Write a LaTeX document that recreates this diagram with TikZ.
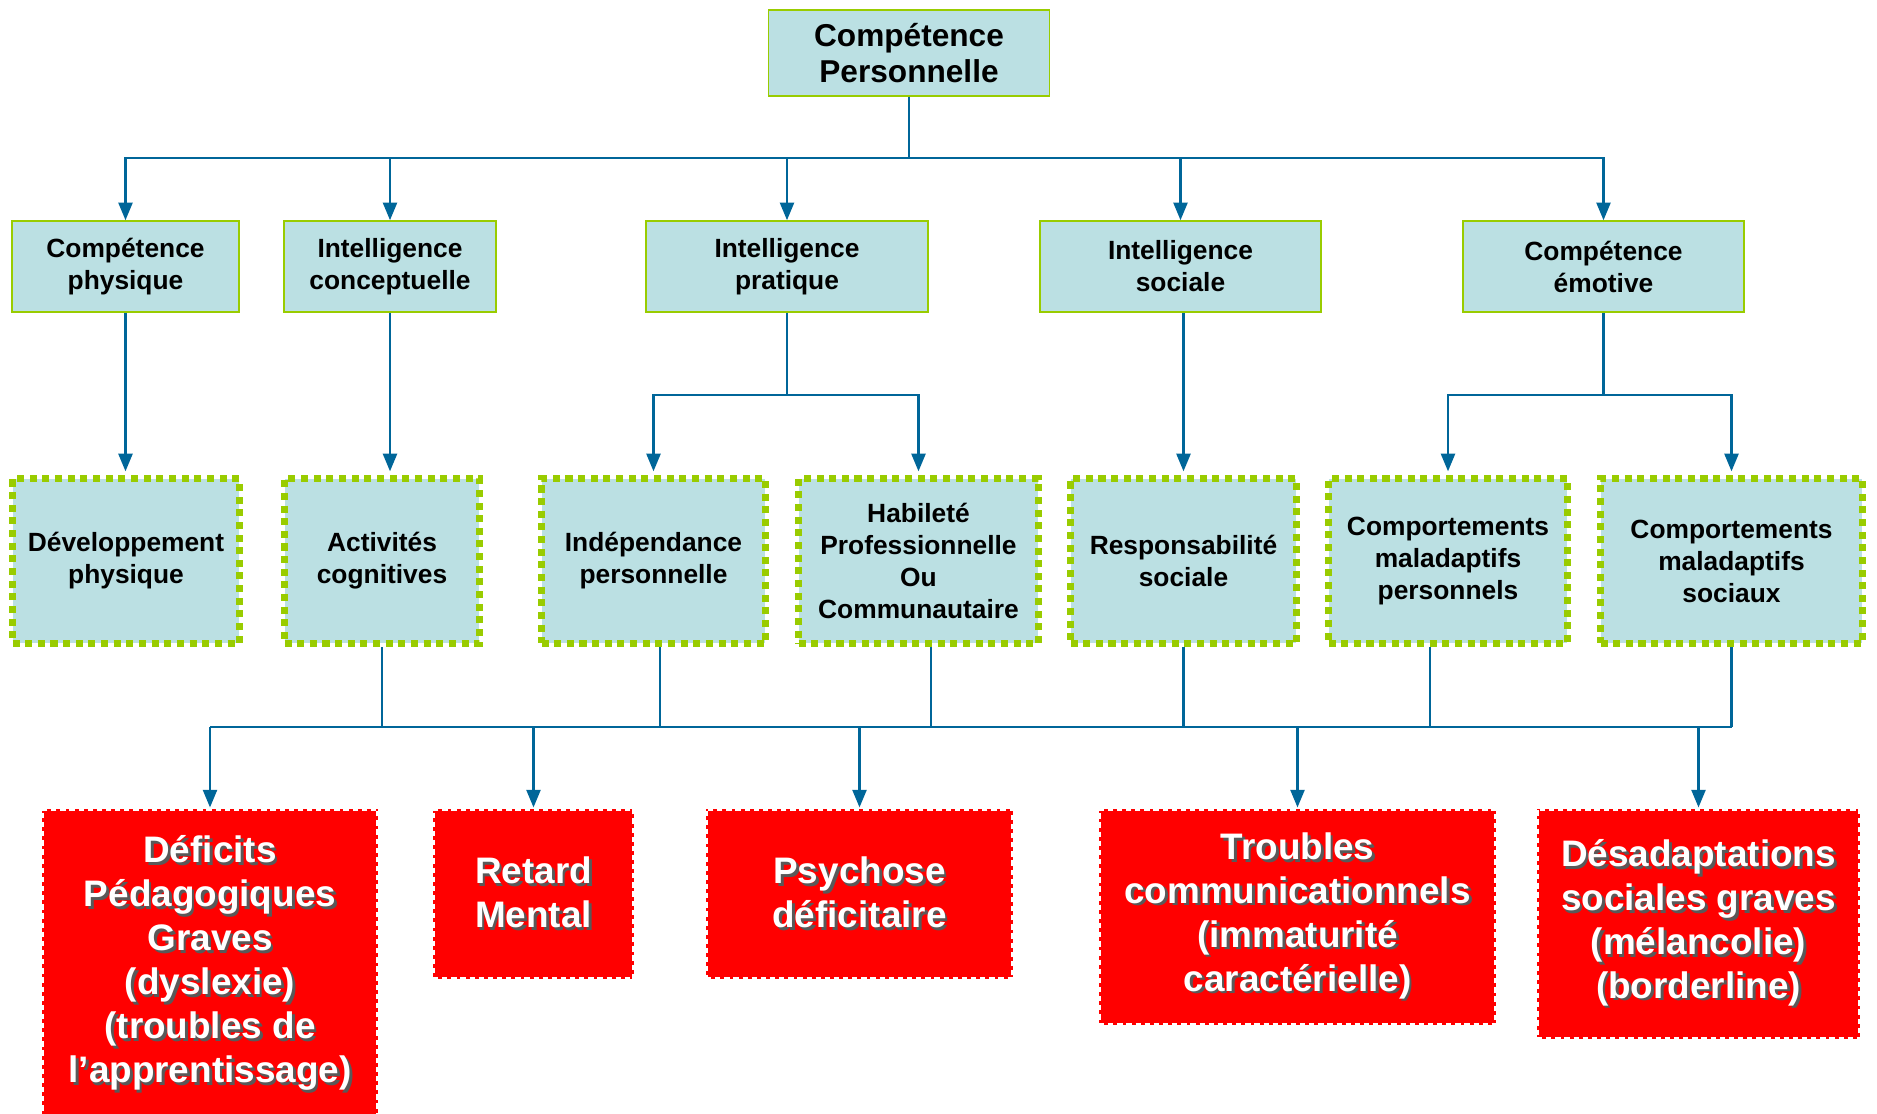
\documentclass[tikz,border=0pt]{standalone}
\usepackage{fontspec}
\setmainfont{Liberation Sans}
\usetikzlibrary{arrows.meta}
\definecolor{boxblue}{HTML}{BBE0E3}
\definecolor{boxgreen}{HTML}{99CC00}
\definecolor{linkblue}{HTML}{006699}
\definecolor{alertred}{HTML}{FF0000}
\newcommand\shtxt[1]{\leavevmode\rlap{\kern1.6pt\raisebox{-1.6pt}{\color{black!65}#1}}#1}
\tikzset{
  >={Triangle[width=8pt,length=10pt]},
  topbox/.style={draw=boxgreen,line width=0.9pt,fill=boxblue,align=center,inner sep=0pt,
    font=\bfseries\fontsize{18}{20.5}\selectfont},
  catbox/.style={draw=boxgreen,line width=0.9pt,fill=boxblue,align=center,inner sep=0pt,
    minimum height=1.82cm,font=\bfseries\fontsize{15}{18.2}\selectfont},
  skillbox/.style={draw=boxgreen,line width=4.2pt,dash pattern=on 4pt off 3.2pt,fill=boxblue,
    align=center,inner sep=0pt,minimum height=3.3cm,font=\bfseries\fontsize{15}{18.2}\selectfont},
  alertbox/.style={draw=white,line width=1.8pt,dash pattern=on 3pt off 2.2pt,fill=alertred,
    text=white,align=center,inner sep=0pt,font=\bfseries\fontsize{21}{25}\selectfont},
  link/.style={draw=linkblue,line width=1.2pt}
}
\begin{document}
\begin{tikzpicture}[x=0.02cm,y=-0.02cm]
  \useasboundingbox (0,0) rectangle (1877,1114);
  \node[topbox,minimum width=5.62cm,minimum height=1.72cm] (root) at (909,53) {Compétence\\Personnelle};

  \node[catbox,minimum width=4.54cm] (cphys) at (125.5,266.5) {Compétence\\physique};
  \node[catbox,minimum width=4.24cm] (iconc) at (390,266.5) {Intelligence\\conceptuelle};
  \node[catbox,minimum width=5.64cm] (iprat) at (787,266.5) {Intelligence\\pratique};
  \node[catbox,minimum width=5.62cm] (isoc) at (1180.5,266.5) {Intelligence\\sociale};
  \node[catbox,minimum width=5.62cm] (cemo) at (1603.5,266.5) {Compétence\\émotive};

  \node[skillbox,minimum width=4.54cm] (devphys) at (126,561) {Développement\\physique};
  \node[skillbox,minimum width=3.9cm] (activ) at (382,561) {Activités\\cognitives};
  \node[skillbox,minimum width=4.48cm] (indep) at (653.5,561) {Indépendance\\personnelle};
  \node[skillbox,minimum width=4.8cm] (habil) at (918.5,561) {Habileté\\Professionnelle\\Ou\\Communautaire};
  \node[skillbox,minimum width=4.52cm] (respo) at (1183.5,561) {Responsabilité\\sociale};
  \node[skillbox,minimum width=4.78cm] (cmpers) at (1448,561) {Comportements\\maladaptifs\\personnels};
  \node[skillbox,minimum width=5.24cm] (cmsoc) at (1731.5,561) {Comportements\\maladaptifs\\sociaux};

  \node[alertbox,minimum width=6.72cm,minimum height=6.22cm] (deficit) at (210,964.5)
    {\shtxt{Déficits}\\\shtxt{Pédagogiques}\\\shtxt{Graves}\\\shtxt{(dyslexie)}\\\shtxt{(troubles de}\\\shtxt{l’apprentissage)}};
  \node[alertbox,minimum width=4.02cm,minimum height=3.4cm] (retard) at (533.5,894) {\shtxt{Retard}\\\shtxt{Mental}};
  \node[alertbox,minimum width=6.14cm,minimum height=3.4cm] (psych) at (859.5,894) {\shtxt{Psychose}\\\shtxt{déficitaire}};
  \node[alertbox,minimum width=7.94cm,minimum height=4.32cm] (troub) at (1297.5,917)
    {\shtxt{Troubles}\\\shtxt{communicationnels}\\\shtxt{(immaturité}\\\shtxt{caractérielle)}};
  \node[alertbox,minimum width=6.46cm,minimum height=4.6cm] (desad) at (1698.5,924)
    {\shtxt{Désadaptations}\\\shtxt{sociales graves}\\\shtxt{(mélancolie)}\\\shtxt{(borderline)}};

  \coordinate (busA) at (909,158);
  \coordinate (busB) at (787,395);
  \coordinate (busC) at (1603.5,395);
  \coordinate (busD) at (900,727);

  \foreach \n in {cphys,iconc,iprat,isoc,cemo}
    \draw[link,->] (root.south) |- (busA) -| (\n.north);
  \draw[link,->] (cphys.south) -- ([yshift=2pt]cphys.south |- devphys.north);
  \draw[link,->] (iconc.south) -- ([yshift=2pt]iconc.south |- activ.north);
  \foreach \n in {indep,habil}
    \draw[link,->] (iprat.south) |- (busB) -| ([yshift=2pt]\n.north);
  \draw[link,->] (respo.north |- isoc.south) -- ([yshift=2pt]respo.north);
  \foreach \n in {cmpers,cmsoc}
    \draw[link,->] (cemo.south) |- (busC) -| ([yshift=2pt]\n.north);

  \foreach \n/\dx in {activ/0,indep/0.13,habil/0.25,respo/0,cmpers/-0.36,cmsoc/0}
    \draw[link] ([xshift=\dx cm]\n.south) -- ([xshift=\dx cm]\n.south |- busD);
  \draw[link] (deficit.north |- busD) -- (cmsoc.south |- busD);
  \foreach \n in {deficit,retard,psych,troub,desad}
    \draw[link,->] (\n.north |- busD) -- (\n.north);
\end{tikzpicture}
\end{document}
